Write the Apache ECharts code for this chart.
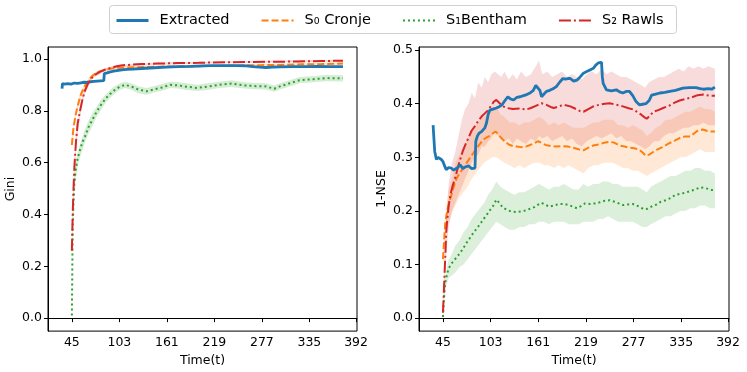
<!DOCTYPE html>
<html>
<head>
<meta charset="utf-8">
<script src="https://cdn.jsdelivr.net/npm/echarts@6/dist/echarts.min.js"></script>
<style>
  html, body { margin: 0; padding: 0; background: #fff; }
  #main { width: 747px; height: 372px; }
</style>
</head>
<body>
<div id="main"></div>
<script>
// x tick labels (same for both panels)
var timeTicks = [45, 103, 161, 219, 277, 335, 392];
var giniTicks = [0, 0.2, 0.4, 0.6, 0.8, 1.0];
var nseTicks = [0, 0.1, 0.2, 0.3, 0.4, 0.5];

// ---- left panel: Gini, [t, value]
var giniExtracted = [[33,0.885],[33.5,0.905],[36,0.903],[40,0.905],[44,0.903],[48,0.907],[52,0.906],[56,0.908],[60,0.910],[64,0.909],[68,0.912],[72,0.913],[76,0.914],[80,0.915],[84,0.916],[84.6,0.943],[88,0.946],[92,0.950],[96,0.953],[100,0.955],[106,0.958],[112,0.960],[120,0.961],[130,0.963],[146,0.966],[160,0.968],[175,0.970],[190,0.971],[205,0.973],[215,0.974],[230,0.974],[245,0.974],[258,0.973],[266,0.970],[274,0.968],[282,0.967],[290,0.968],[300,0.969],[315,0.970],[330,0.970],[345,0.971],[360,0.970],[376,0.970]];
var giniCronje = [[45,0.668],[46,0.705],[47,0.735],[48,0.755],[50,0.790],[53,0.830],[56,0.862],[59,0.885],[62,0.902],[66,0.920],[70,0.935],[75,0.946],[80,0.953],[86,0.958],[92,0.962],[100,0.965],[110,0.967],[125,0.968],[150,0.970],[175,0.971],[200,0.972],[225,0.973],[250,0.975],[275,0.976],[300,0.977],[325,0.979],[350,0.980],[376,0.982]];
var giniBentham = [[45,0.010],[46,0.350],[47,0.450],[48,0.520],[50,0.580],[52,0.615],[55,0.650],[58,0.680],[61,0.700],[65,0.735],[70,0.765],[75,0.795],[80,0.820],[87,0.850],[95,0.875],[103,0.892],[110,0.900],[118,0.893],[126,0.882],[136,0.875],[145,0.882],[155,0.890],[165,0.900],[175,0.898],[185,0.893],[198,0.888],[210,0.893],[225,0.900],[240,0.905],[255,0.898],[270,0.895],[282,0.894],[292,0.885],[300,0.895],[310,0.905],[323,0.918],[340,0.922],[356,0.926],[376,0.925]];
var giniRawls = [[45,0.260],[46,0.400],[47,0.500],[48,0.580],[49,0.630],[50,0.680],[52,0.750],[55,0.800],[58,0.845],[61,0.878],[64,0.900],[68,0.922],[73,0.938],[79,0.950],[85,0.958],[92,0.965],[100,0.972],[105,0.975],[118,0.978],[130,0.980],[150,0.982],[175,0.984],[200,0.985],[230,0.987],[260,0.988],[290,0.989],[320,0.990],[350,0.992],[376,0.993]];

// bands [t, low, high]
var giniCronjeBand = [[45,0.65,0.69],[48,0.74,0.77],[50,0.775,0.805],[53,0.815,0.845],[56,0.85,0.875],[60,0.88,0.9],[66,0.912,0.928],[75,0.94,0.952],[90,0.957,0.966],[120,0.963,0.972],[200,0.968,0.976],[300,0.973,0.981],[376,0.978,0.986]];
var giniBenthamBand = [[45,0.0,0.03],[46,0.3,0.4],[48,0.49,0.55],[50,0.55,0.61],[53,0.6,0.65],[56,0.63,0.68],[60,0.67,0.72],[65,0.71,0.76],[70,0.74,0.79],[75,0.775,0.815],[80,0.8,0.84],[87,0.835,0.865],[95,0.86,0.89],[103,0.88,0.905],[110,0.888,0.912],[118,0.88,0.905],[126,0.868,0.895],[136,0.862,0.888],[145,0.87,0.895],[155,0.877,0.903],[165,0.888,0.912],[175,0.886,0.91],[185,0.88,0.906],[198,0.876,0.9],[210,0.88,0.906],[225,0.888,0.912],[240,0.892,0.918],[255,0.886,0.91],[270,0.883,0.907],[282,0.882,0.906],[292,0.873,0.897],[300,0.883,0.907],[310,0.893,0.917],[323,0.906,0.93],[340,0.91,0.934],[356,0.914,0.938],[376,0.913,0.937]];
var giniRawlsBand = [[45,0.24,0.28],[46,0.37,0.43],[48,0.55,0.61],[50,0.65,0.71],[55,0.78,0.82],[60,0.86,0.885],[70,0.925,0.94],[85,0.952,0.964],[100,0.967,0.977],[150,0.978,0.986],[250,0.984,0.992],[376,0.989,0.997]];

// ---- right panel: 1-NSE, [t, value]
var nseExtracted = [[33,0.360],[34,0.335],[35,0.311],[37,0.296],[39,0.300],[41,0.302],[43,0.296],[45,0.292],[47,0.284],[49,0.277],[52,0.281],[55,0.280],[58,0.276],[60,0.274],[63,0.281],[66,0.286],[69,0.279],[72,0.282],[74,0.280],[76,0.284],[78,0.286],[80,0.279],[82,0.277],[84,0.280],[85,0.330],[87,0.340],[89,0.345],[92,0.348],[94,0.350],[96,0.355],[98,0.364],[100,0.380],[102,0.388],[106,0.390],[110,0.392],[114,0.395],[117,0.398],[120,0.405],[124,0.413],[127,0.409],[131,0.407],[135,0.412],[139,0.413],[143,0.415],[147,0.417],[151,0.420],[155,0.425],[158,0.434],[160,0.435],[163,0.425],[165,0.413],[168,0.418],[171,0.423],[175,0.425],[179,0.428],[183,0.432],[187,0.440],[191,0.447],[194,0.446],[197,0.447],[200,0.447],[204,0.442],[208,0.444],[212,0.450],[216,0.457],[220,0.460],[224,0.463],[228,0.466],[231,0.472],[234,0.476],[236,0.478],[238,0.477],[239,0.450],[240,0.438],[244,0.426],[250,0.424],[256,0.426],[260,0.422],[264,0.420],[268,0.423],[272,0.423],[276,0.415],[280,0.404],[284,0.398],[288,0.399],[292,0.400],[296,0.406],[299,0.416],[304,0.418],[309,0.420],[315,0.421],[321,0.423],[328,0.425],[337,0.429],[345,0.430],[353,0.430],[358,0.428],[362,0.427],[368,0.428],[372,0.427],[376,0.431]];
var nseCronje = [[45,0.110],[46,0.135],[47,0.160],[48,0.180],[50,0.198],[52,0.212],[55,0.228],[58,0.245],[62,0.262],[66,0.272],[70,0.280],[74,0.290],[78,0.299],[82,0.308],[86,0.317],[90,0.325],[94,0.333],[98,0.337],[102,0.340],[106,0.345],[109,0.348],[112,0.344],[116,0.336],[120,0.330],[125,0.324],[130,0.321],[135,0.320],[140,0.319],[146,0.320],[151,0.323],[156,0.326],[161,0.330],[165,0.327],[170,0.323],[176,0.321],[182,0.320],[190,0.321],[197,0.320],[203,0.318],[210,0.315],[216,0.313],[222,0.318],[228,0.322],[234,0.324],[241,0.327],[248,0.329],[254,0.327],[260,0.322],[266,0.320],[272,0.318],[278,0.317],[284,0.314],[288,0.309],[292,0.303],[296,0.305],[300,0.309],[305,0.314],[312,0.319],[320,0.326],[327,0.331],[333,0.336],[340,0.339],[346,0.339],[351,0.345],[356,0.351],[361,0.352],[367,0.349],[372,0.348],[376,0.348]];
var nseBentham = [[45,0.002],[46,0.030],[47,0.054],[48,0.068],[50,0.082],[52,0.093],[55,0.101],[58,0.107],[62,0.114],[66,0.122],[70,0.131],[74,0.141],[78,0.150],[82,0.159],[86,0.167],[90,0.175],[94,0.184],[98,0.192],[102,0.201],[106,0.209],[110,0.221],[114,0.214],[118,0.206],[123,0.202],[128,0.199],[134,0.198],[140,0.199],[146,0.201],[151,0.204],[156,0.207],[161,0.212],[165,0.215],[170,0.211],[175,0.208],[180,0.210],[186,0.213],[192,0.213],[198,0.211],[203,0.208],[208,0.205],[213,0.209],[218,0.214],[224,0.213],[230,0.214],[236,0.216],[242,0.219],[248,0.220],[254,0.217],[259,0.214],[264,0.211],[270,0.212],[276,0.213],[281,0.210],[286,0.206],[290,0.203],[294,0.204],[300,0.209],[305,0.212],[310,0.217],[316,0.220],[322,0.224],[328,0.230],[334,0.232],[340,0.234],[346,0.237],[352,0.240],[358,0.244],[363,0.243],[368,0.241],[372,0.239],[376,0.239]];
var nseRawls = [[45,0.010],[46,0.045],[47,0.085],[48,0.120],[49,0.160],[50,0.180],[52,0.210],[54,0.230],[57,0.248],[60,0.262],[64,0.286],[69,0.311],[73,0.326],[76,0.336],[80,0.350],[84,0.358],[88,0.368],[92,0.376],[96,0.382],[100,0.388],[104,0.397],[107,0.404],[110,0.407],[114,0.401],[118,0.395],[123,0.392],[130,0.390],[139,0.391],[146,0.389],[152,0.392],[158,0.396],[165,0.401],[171,0.398],[176,0.394],[180,0.392],[186,0.395],[192,0.398],[200,0.395],[207,0.390],[212,0.386],[216,0.385],[222,0.390],[228,0.395],[235,0.398],[242,0.400],[248,0.401],[256,0.398],[264,0.395],[270,0.392],[277,0.389],[282,0.384],[286,0.380],[290,0.375],[293,0.372],[297,0.378],[301,0.385],[307,0.388],[313,0.392],[320,0.396],[327,0.402],[333,0.406],[341,0.409],[348,0.412],[355,0.416],[362,0.417],[369,0.415],[376,0.415]];

var nseCronjeBand = [[45,0.09,0.13],[47,0.14,0.18],[49,0.16,0.21],[52,0.18,0.24],[56,0.195,0.26],[60,0.21,0.29],[65,0.225,0.305],[70,0.235,0.32],[75,0.245,0.335],[80,0.26,0.35],[85,0.27,0.36],[90,0.28,0.37],[95,0.29,0.375],[100,0.295,0.385],[105,0.3,0.39],[110,0.3,0.395],[115,0.295,0.38],[120,0.29,0.375],[126,0.285,0.365],[132,0.28,0.365],[138,0.285,0.36],[144,0.28,0.365],[150,0.285,0.365],[156,0.29,0.37],[162,0.29,0.375],[168,0.285,0.37],[174,0.285,0.36],[180,0.28,0.365],[186,0.285,0.36],[192,0.28,0.365],[198,0.285,0.36],[204,0.28,0.355],[210,0.275,0.355],[216,0.27,0.355],[222,0.28,0.36],[228,0.285,0.365],[234,0.285,0.365],[240,0.29,0.37],[246,0.29,0.37],[252,0.29,0.37],[258,0.285,0.36],[264,0.28,0.36],[270,0.28,0.355],[276,0.275,0.36],[282,0.275,0.355],[288,0.27,0.35],[293,0.265,0.34],[298,0.27,0.345],[304,0.275,0.355],[310,0.28,0.36],[316,0.285,0.37],[322,0.29,0.37],[328,0.295,0.375],[334,0.3,0.38],[340,0.3,0.385],[346,0.305,0.385],[352,0.31,0.39],[358,0.315,0.395],[364,0.31,0.39],[370,0.31,0.39],[376,0.31,0.385]];
var nseBenthamBand = [[45,0.0,0.005],[47,0.04,0.07],[49,0.06,0.09],[52,0.075,0.11],[56,0.08,0.12],[60,0.085,0.135],[65,0.095,0.145],[70,0.1,0.16],[75,0.11,0.17],[80,0.12,0.185],[85,0.13,0.195],[90,0.14,0.205],[95,0.15,0.215],[100,0.16,0.23],[105,0.17,0.24],[110,0.18,0.255],[115,0.175,0.245],[120,0.17,0.24],[126,0.165,0.235],[132,0.165,0.23],[138,0.17,0.235],[144,0.17,0.235],[150,0.175,0.24],[156,0.175,0.245],[162,0.18,0.25],[168,0.18,0.245],[174,0.175,0.24],[180,0.18,0.245],[186,0.18,0.245],[192,0.18,0.25],[198,0.175,0.245],[204,0.175,0.24],[210,0.175,0.24],[216,0.18,0.25],[222,0.18,0.245],[228,0.18,0.25],[234,0.185,0.25],[240,0.185,0.255],[246,0.19,0.255],[252,0.185,0.25],[258,0.18,0.25],[264,0.18,0.245],[270,0.18,0.245],[276,0.18,0.245],[282,0.175,0.245],[288,0.17,0.24],[293,0.17,0.235],[298,0.175,0.245],[304,0.18,0.25],[310,0.185,0.255],[316,0.19,0.26],[322,0.19,0.265],[328,0.195,0.265],[334,0.2,0.27],[340,0.2,0.275],[346,0.205,0.275],[352,0.205,0.28],[358,0.21,0.28],[364,0.21,0.275],[370,0.205,0.275],[376,0.205,0.27]];
var nseRawlsBand = [[45,0.0,0.02],[47,0.06,0.11],[49,0.12,0.19],[52,0.17,0.25],[56,0.2,0.29],[60,0.215,0.31],[64,0.23,0.34],[68,0.245,0.37],[72,0.26,0.39],[76,0.275,0.4],[80,0.29,0.42],[84,0.3,0.41],[88,0.305,0.44],[92,0.32,0.43],[96,0.32,0.45],[100,0.33,0.44],[104,0.335,0.455],[108,0.35,0.46],[112,0.34,0.455],[116,0.335,0.45],[120,0.33,0.46],[125,0.335,0.445],[130,0.325,0.455],[135,0.335,0.445],[140,0.33,0.46],[146,0.325,0.45],[152,0.335,0.455],[158,0.33,0.47],[162,0.34,0.48],[166,0.335,0.455],[172,0.34,0.46],[178,0.33,0.45],[184,0.335,0.455],[190,0.34,0.46],[196,0.33,0.45],[202,0.335,0.455],[208,0.325,0.45],[214,0.32,0.445],[220,0.33,0.455],[226,0.335,0.46],[232,0.34,0.455],[238,0.335,0.465],[244,0.34,0.455],[250,0.345,0.46],[256,0.335,0.455],[262,0.34,0.45],[268,0.33,0.45],[274,0.33,0.445],[280,0.325,0.44],[286,0.32,0.435],[291,0.315,0.43],[296,0.32,0.44],[302,0.33,0.445],[308,0.33,0.45],[314,0.34,0.45],[320,0.345,0.455],[326,0.345,0.46],[332,0.35,0.465],[338,0.355,0.46],[344,0.355,0.47],[350,0.36,0.465],[356,0.36,0.47],[362,0.365,0.465],[368,0.36,0.47],[376,0.36,0.465]];

var BLUE = '#1f77b4', ORANGE = '#ff7f0e', GREEN = '#2ca02c', RED = '#d62728';
var FONT = 'DejaVu Sans';

function bandSeries(rows, fill, idx) {
    return {
        type: 'custom',
        xAxisIndex: idx, yAxisIndex: idx,
        silent: true, z: 1,
        data: rows,
        encode: { x: 0, y: 1 },
        renderItem: function (params, api) {
            if (params.dataIndex !== 0) return;
            var pts = [];
            for (var i = 0; i < rows.length; i++) pts.push(api.coord([rows[i][0], rows[i][2]]));
            for (var j = rows.length - 1; j >= 0; j--) pts.push(api.coord([rows[j][0], rows[j][1]]));
            return { type: 'polygon', shape: { points: pts }, style: { fill: fill } };
        }
    };
}

function lineSeries(name, data, color, width, dash, idx) {
    return {
        name: name, type: 'line', data: data,
        xAxisIndex: idx, yAxisIndex: idx,
        showSymbol: false, symbol: 'none', z: 3,
        lineStyle: { color: color, width: width, type: dash, cap: 'butt' },
        itemStyle: { color: color }
    };
}

function xAxisCfg(idx) {
    return {
        type: 'value', gridIndex: idx, min: 15.85, max: 393.15,
        name: 'Time(t)', nameLocation: 'middle', nameGap: 19,
        nameTextStyle: { color: '#000', fontSize: 12.5, fontFamily: FONT },
        axisLine: { show: true, lineStyle: { color: '#000', width: 1 } },
        axisTick: { show: true, length: 4, lineStyle: { color: '#000' }, customValues: timeTicks },
        axisLabel: { color: '#000', fontSize: 12.5, fontFamily: FONT, margin: 5, customValues: timeTicks },
        splitLine: { show: false }
    };
}

function yAxisCfg(idx, name, min, max, ticks) {
    return {
        type: 'value', gridIndex: idx, min: min, max: max,
        name: name, nameLocation: 'middle', nameGap: 31,
        nameTextStyle: { color: '#000', fontSize: 12.5, fontFamily: FONT },
        axisLine: { show: true, lineStyle: { color: '#000', width: 1 } },
        axisTick: { show: true, length: 4, lineStyle: { color: '#000' }, customValues: ticks },
        axisLabel: { color: '#000', fontSize: 12.5, fontFamily: FONT, margin: 6, customValues: ticks,
            formatter: function (v) { return v.toFixed(1); } },
        splitLine: { show: false }
    };
}

var chart = echarts.init(document.getElementById('main'), null, { renderer: 'canvas' });
chart.setOption({
    animation: false,
    backgroundColor: '#fff',
    graphic: [{
        type: 'rect', left: 109, top: 5, z: -1,
        shape: { width: 567, height: 28, r: 3 },
        style: { fill: '#fff', stroke: '#d0d0d0', lineWidth: 1 }
    }],
    legend: {
        left: 110, top: 8, itemWidth: 32, itemHeight: 14, itemGap: 31,
        itemStyle: { color: 'transparent', borderColor: 'transparent', borderWidth: 0, opacity: 0 },
        textStyle: { color: '#000', fontSize: 14.5, fontFamily: FONT, padding: [0, 0, 0, 6] },
        data: [
            { name: 'Extracted', lineStyle: { width: 3 } },
            { name: 'S₀ Cronje', lineStyle: { width: 2 } },
            { name: 'S₁Bentham', lineStyle: { width: 2 } },
            { name: 'S₂ Rawls', lineStyle: { width: 2 } }
        ]
    },
    grid: [
        { left: 48, top: 47, width: 309, height: 285, show: true, borderColor: '#000', borderWidth: 1, backgroundColor: 'transparent' },
        { left: 419, top: 47, width: 310, height: 285, show: true, borderColor: '#000', borderWidth: 1, backgroundColor: 'transparent' }
    ],
    xAxis: [xAxisCfg(0), xAxisCfg(1)],
    yAxis: [
        yAxisCfg(0, 'Gini', -0.05, 1.046, giniTicks),
        yAxisCfg(1, '1-NSE', -0.0242, 0.5058, nseTicks)
    ],
    series: [
        bandSeries(giniCronjeBand, 'rgba(255,127,14,0.2)', 0),
        bandSeries(giniBenthamBand, 'rgba(44,160,44,0.2)', 0),
        bandSeries(giniRawlsBand, 'rgba(214,39,40,0.2)', 0),
        bandSeries(nseCronjeBand, 'rgba(255,127,14,0.17)', 1),
        bandSeries(nseBenthamBand, 'rgba(44,160,44,0.17)', 1),
        bandSeries(nseRawlsBand, 'rgba(214,39,40,0.17)', 1),

        lineSeries('S₀ Cronje', giniCronje, ORANGE, 2, [7, 3], 0),
        lineSeries('S₁Bentham', giniBentham, GREEN, 2, [2, 3], 0),
        lineSeries('Extracted', giniExtracted, BLUE, 2.8, 'solid', 0),
        lineSeries('S₂ Rawls', giniRawls, RED, 2, [12, 3, 2, 3], 0),

        lineSeries('S₀ Cronje', nseCronje, ORANGE, 2, [7, 3], 1),
        lineSeries('S₁Bentham', nseBentham, GREEN, 2, [2, 3], 1),
        lineSeries('S₂ Rawls', nseRawls, RED, 2, [12, 3, 2, 3], 1),
        lineSeries('Extracted', nseExtracted, BLUE, 2.8, 'solid', 1)
    ]
});
</script>
</body>
</html>
